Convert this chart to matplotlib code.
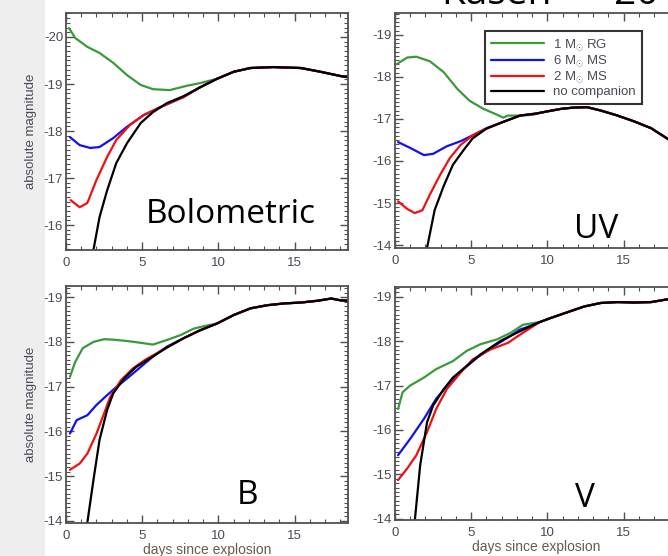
import matplotlib
matplotlib.use("Agg")
import matplotlib.pyplot as plt
from matplotlib.ticker import MultipleLocator
from matplotlib.patches import Rectangle

# ---------------- data (days since explosion, absolute magnitude) ----------------
# Bolometric
BOL_LATE_D = [9.9, 11.0, 12.1, 13.6, 15.4, 16.7, 18.0, 18.6]
BOL_LATE_M = [-19.11, -19.26, -19.34, -19.36, -19.34, -19.26, -19.17, -19.14]
BOL_RG_D = [0.2, 0.6, 1.4, 2.2, 3.1, 4.0, 4.9, 5.7, 6.8, 7.9, 8.8]
BOL_RG_M = [-20.19, -19.98, -19.79, -19.66, -19.45, -19.19, -18.98, -18.89, -18.87, -18.96, -19.02]
BOL_MS6_D = [0.26, 0.9, 1.6, 2.2, 3.1, 4.0, 5.1, 6.2, 7.7, 8.8]
BOL_MS6_M = [-17.87, -17.70, -17.64, -17.66, -17.85, -18.09, -18.34, -18.51, -18.72, -18.93]
BOL_MS2_D = [0.3, 0.9, 1.4, 2.0, 2.7, 3.3, 4.2, 5.1, 6.2, 7.7, 8.8]
BOL_MS2_M = [-16.53, -16.38, -16.47, -16.96, -17.45, -17.81, -18.13, -18.34, -18.51, -18.72, -18.93]
BOL_NO_D = [1.8, 2.2, 2.7, 3.3, 4.0, 4.9, 5.7, 6.6, 7.7, 8.8]
BOL_NO_M = [-15.47, -16.17, -16.74, -17.32, -17.74, -18.17, -18.40, -18.59, -18.74, -18.93]

# UV
UV_LATE_D = [9.3, 10.0, 10.9, 11.7, 12.6, 13.5, 14.6, 15.7, 16.8, 18.0, 18.6]
UV_LATE_M = [-17.13, -17.18, -17.24, -17.27, -17.28, -17.20, -17.08, -16.94, -16.78, -16.50, -16.36]
UV_RG_D = [0.1, 0.8, 1.4, 2.3, 3.2, 4.1, 4.9, 5.8, 6.7, 7.1, 7.4, 8.2, 9.1]
UV_RG_M = [-18.30, -18.46, -18.48, -18.37, -18.11, -17.71, -17.43, -17.24, -17.10, -17.03, -17.08, -17.08, -17.10]
UV_MS6_D = [0.2, 1.0, 1.9, 2.5, 3.4, 4.3, 5.2, 6.0, 7.1, 8.2]
UV_MS6_M = [-16.45, -16.31, -16.14, -16.17, -16.35, -16.47, -16.63, -16.78, -16.93, -17.08]
UV_MS2_D = [0.2, 0.8, 1.3, 1.8, 2.3, 2.96, 3.6, 4.3, 5.1, 6.0, 7.1, 8.2]
UV_MS2_M = [-15.04, -14.86, -14.76, -14.83, -15.21, -15.67, -16.07, -16.38, -16.61, -16.77, -16.93, -17.08]
UV_NO_D = [2.1, 2.6, 3.2, 3.8, 4.5, 5.1, 6.0, 7.1, 8.2]
UV_NO_M = [-13.93, -14.83, -15.41, -15.91, -16.26, -16.54, -16.77, -16.93, -17.08]

# B band
B_LATE_D = [9.9, 11.0, 12.1, 13.2, 14.3, 15.4, 16.5, 17.4, 18.0, 18.6]
B_LATE_M = [-18.41, -18.60, -18.75, -18.82, -18.86, -18.88, -18.92, -18.97, -18.93, -18.92]
B_RG_D = [0.26, 0.6, 1.1, 1.8, 2.5, 3.1, 4.0, 4.9, 5.7, 6.6, 7.5, 8.4, 9.3]
B_RG_M = [-17.22, -17.55, -17.86, -18.00, -18.06, -18.05, -18.02, -17.98, -17.94, -18.04, -18.15, -18.30, -18.37]
B_MS6_D = [0.26, 0.7, 1.4, 2.0, 2.7, 3.3, 4.0, 4.9, 5.7, 6.6, 7.7, 8.8]
B_MS6_M = [-15.95, -16.25, -16.36, -16.59, -16.81, -16.99, -17.18, -17.44, -17.67, -17.89, -18.08, -18.26]
B_MS2_D = [0.26, 0.9, 1.4, 2.0, 2.5, 2.9, 3.6, 4.4, 5.2, 6.6, 7.7, 8.8]
B_MS2_M = [-15.14, -15.28, -15.50, -15.95, -16.40, -16.77, -17.14, -17.41, -17.60, -17.87, -18.08, -18.26]
B_NO_D = [1.4, 1.8, 2.2, 2.7, 3.1, 3.8, 4.6, 5.5, 6.6, 7.7, 8.8]
B_NO_M = [-13.96, -14.91, -15.81, -16.48, -16.85, -17.18, -17.44, -17.63, -17.87, -18.08, -18.26]

# V band
V_LATE_D = [9.5, 10.2, 11.3, 12.4, 13.5, 14.6, 15.7, 16.8, 18.0, 18.6]
V_LATE_M = [-18.43, -18.52, -18.65, -18.78, -18.86, -18.88, -18.87, -18.88, -18.95, -18.93]
V_RG_D = [0.2, 0.5, 1.0, 1.9, 2.7, 3.8, 4.7, 5.6, 6.7, 7.6, 8.4]
V_RG_M = [-16.47, -16.85, -17.00, -17.18, -17.37, -17.55, -17.78, -17.93, -18.04, -18.19, -18.37]
V_MS6_D = [0.2, 1.0, 1.9, 2.7, 3.6, 4.5, 5.4, 6.5, 7.4, 8.2, 9.1]
V_MS6_M = [-15.43, -15.80, -16.25, -16.70, -17.07, -17.37, -17.63, -17.89, -18.08, -18.26, -18.37]
V_MS2_D = [0.2, 0.8, 1.4, 2.1, 2.7, 3.4, 4.3, 5.1, 6.25, 7.4, 8.4]
V_MS2_M = [-14.87, -15.13, -15.43, -15.95, -16.47, -16.92, -17.29, -17.59, -17.81, -17.96, -18.19]
V_NO_D = [1.3, 1.65, 2.1, 2.5, 3.2, 3.8, 4.7, 5.6, 6.9, 8.0, 9.1]
V_NO_M = [-13.96, -15.20, -16.17, -16.55, -16.92, -17.18, -17.44, -17.70, -18.00, -18.19, -18.37]

SERIES_LABELS = [r"1 M$_{\odot}$ RG", r"6 M$_{\odot}$ MS", r"2 M$_{\odot}$ MS", "no companion"]
PANEL_NAMES = ["Bolometric", "UV", "B", "V"]
Y_MAJOR_TICKS = {
    "Bolometric": [-20, -19, -18, -17, -16],
    "UV": [-19, -18, -17, -16, -15, -14],
    "B": [-19, -18, -17, -16, -15, -14],
    "V": [-19, -18, -17, -16, -15, -14],
}
X_TICKS = [0, 5, 10, 15]

# ---------------- styling ----------------
W, H = 668, 556
DPI = 100
COLORS = ["#3a9a3a", "#1010f0", "#f01010", "#000000"]
TICK_COLOR = "#4a4a55"
SPINE_COLOR = "#505050"
plt.rcParams["font.family"] = ["Liberation Sans", "DejaVu Sans"]
plt.rcParams["mathtext.fontset"] = "custom"
plt.rcParams["mathtext.rm"] = "Liberation Sans"

fig = plt.figure(figsize=(W / DPI, H / DPI), dpi=DPI)
fig.patch.set_facecolor("white")

# light speckled slide margin on the left
fig.patches.append(Rectangle((0, 0), 45 / W, 1, transform=fig.transFigure,
                             facecolor="#eeeeee", edgecolor="none", zorder=-5))


def px_axes(left, top, bottom, width=282):
    return [left / W, 1 - bottom / H, width / W, (bottom - top) / H]


panels = {
    "Bolometric": dict(rect=px_axes(66, 13, 250), ylim=(-15.47, -20.51),
                       data=[(BOL_RG_D, BOL_RG_M), (BOL_MS6_D, BOL_MS6_M),
                             (BOL_MS2_D, BOL_MS2_M), (BOL_NO_D, BOL_NO_M)],
                       late=(BOL_LATE_D, BOL_LATE_M),
                       text=(231, 223), ylabel=True, xlabel=False),
    "UV": dict(rect=px_axes(395, 13, 248), ylim=(-13.93, -19.52),
               data=[(UV_RG_D, UV_RG_M), (UV_MS6_D, UV_MS6_M),
                     (UV_MS2_D, UV_MS2_M), (UV_NO_D, UV_NO_M)],
               late=(UV_LATE_D, UV_LATE_M),
               text=(596, 238), ylabel=False, xlabel=False),
    "B": dict(rect=px_axes(66, 286, 523), ylim=(-13.95, -19.25),
              data=[(B_RG_D, B_RG_M), (B_MS6_D, B_MS6_M),
                    (B_MS2_D, B_MS2_M), (B_NO_D, B_NO_M)],
              late=(B_LATE_D, B_LATE_M),
              text=(248, 504), ylabel=True, xlabel=True),
    "V": dict(rect=px_axes(395, 287, 520), ylim=(-13.97, -19.22),
              data=[(V_RG_D, V_RG_M), (V_MS6_D, V_MS6_M),
                    (V_MS2_D, V_MS2_M), (V_NO_D, V_NO_M)],
              late=(V_LATE_D, V_LATE_M),
              text=(585, 507), ylabel=False, xlabel=True),
}

axes = {}
for name in PANEL_NAMES:
    p = panels[name]
    ax = fig.add_axes(p["rect"])
    ax.patch.set_alpha(0)
    axes[name] = ax
    ld, lm = p["late"]
    for (d, m), c, lab in zip(p["data"], COLORS, SERIES_LABELS):
        ax.plot(list(d) + list(ld), list(m) + list(lm), color=c, lw=1.6,
                label=lab, solid_capstyle="round", solid_joinstyle="round")
    ax.set_xlim(0, 18.5)
    ax.set_ylim(*p["ylim"])
    ax.set_xticks(X_TICKS)
    ax.set_yticks(Y_MAJOR_TICKS[name])
    ax.set_yticklabels([str(v) for v in Y_MAJOR_TICKS[name]])
    ax.xaxis.set_minor_locator(MultipleLocator(1))
    ax.yaxis.set_minor_locator(MultipleLocator(0.1))
    ax.tick_params(which="both", direction="in", top=True, right=True,
                   colors=SPINE_COLOR, labelcolor=TICK_COLOR, labelsize=9.5)
    ax.tick_params(which="major", length=6, width=1.0)
    ax.tick_params(which="minor", length=3, width=0.8)
    ax.tick_params(axis="y", pad=2)
    ax.tick_params(axis="x", pad=5)
    for s in ax.spines.values():
        s.set_color(SPINE_COLOR)
        s.set_linewidth(1.3)
    if p["ylabel"]:
        ax.set_ylabel("absolute magnitude", color=TICK_COLOR, fontsize=9.5, labelpad=5)
    if p["xlabel"]:
        ax.set_xlabel("days since explosion", color="#6a5a4a", fontsize=10, labelpad=1)
    tx, ty = p["text"]
    fig.text(tx / W, 1 - ty / H, name, fontsize=24, family="Open Sans",
             ha="center", va="baseline", color="black")

leg = axes["UV"].legend(loc="upper left", bbox_to_anchor=(485 / W, 1 - 31 / H),
                        bbox_transform=fig.transFigure, borderaxespad=0,
                        fontsize=9.5, handlelength=4.0, handletextpad=0.7,
                        labelspacing=0.05, borderpad=0.45, fancybox=False,
                        framealpha=1, edgecolor="#333333")
leg.get_frame().set_linewidth(1.5)
for t in leg.get_texts():
    t.set_color(TICK_COLOR)

# partially visible slide title at the top edge
fig.text(442 / W, 1 - 4 / H, "Kasen  ~  2010", fontsize=28, family="Open Sans",
         ha="left", va="baseline", color="black")

fig.savefig("out.png", dpi=DPI)
